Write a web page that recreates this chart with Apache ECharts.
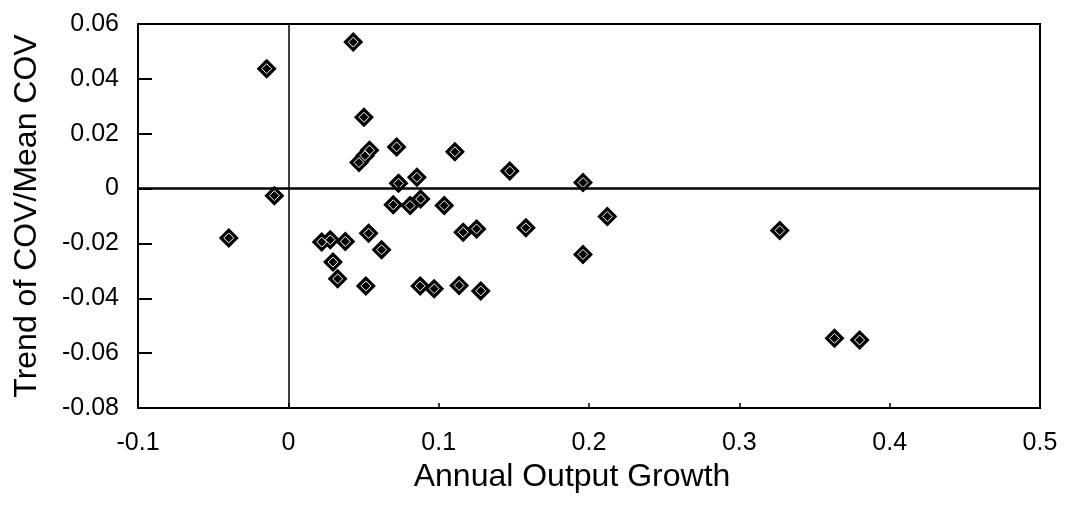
<!DOCTYPE html>
<html>
<head>
<meta charset="utf-8">
<script src="https://cdn.jsdelivr.net/npm/echarts@6/dist/echarts.min.js"></script>
<style>
  html, body { margin: 0; padding: 0; background: #fff; }
  #chart { width: 1072px; height: 509px; }
</style>
</head>
<body>
<div id="chart"></div>
<script>
// annual output growth (x) vs trend of COV / mean COV (y)
const growth = [
  -0.0396, -0.0144, -0.0093, 0.0222, 0.0279, 0.0297, 0.0328, 0.0379, 0.0432, 0.047,
  0.051, 0.054, 0.0503, 0.0534, 0.0516, 0.062, 0.0698, 0.072, 0.0733, 0.081,
  0.0855, 0.088, 0.0877, 0.097, 0.1037, 0.1108, 0.1136, 0.1163, 0.1252, 0.128,
  0.1473, 0.158, 0.196, 0.196, 0.2122, 0.3269, 0.3633, 0.38
];
const covTrend = [
  -0.018, 0.0437, -0.0026, -0.0195, -0.0187, -0.0268, -0.0329, -0.0193, 0.0534, 0.0095,
  0.012, 0.014, 0.026, -0.0163, -0.0355, -0.0223, -0.0059, 0.0152, 0.0019, -0.0062,
  0.0041, -0.0038, -0.0355, -0.0365, -0.0062, 0.0134, -0.0353, -0.0159, -0.0147, -0.0373,
  0.0064, -0.0143, 0.0022, -0.024, -0.0102, -0.0153, -0.0546, -0.0552
];
const xTicks = [-0.1, 0, 0.1, 0.2, 0.3, 0.4, 0.5];
const yTicks = [-0.08, -0.06, -0.04, -0.02, 0, 0.02, 0.04, 0.06];

const points = growth.map((g, i) => [g, covTrend[i]]);
const font = "'Liberation Sans', Arial, sans-serif";

const chart = echarts.init(document.getElementById("chart"));
chart.setOption({
  animation: false,
  backgroundColor: "#fff",
  grid: {
    left: 138, right: 32, top: 24, bottom: 101,
    show: true, borderColor: "#000", borderWidth: 2
  },
  xAxis: {
    type: "value",
    min: xTicks[0], max: xTicks[xTicks.length - 1], interval: 0.1,
    name: "Annual Output Growth",
    nameLocation: "middle", nameGap: 50,
    nameTextStyle: { fontFamily: font, fontSize: 32, color: "#000", padding: [0, 34, 0, 0] },
    axisLine: { onZero: false, lineStyle: { color: "#000", width: 2 } },
    axisTick: { inside: true, length: 5, lineStyle: { color: "#000", width: 1.5 } },
    axisLabel: {
      fontFamily: font, fontSize: 25, color: "#000", margin: 23,
      formatter: v => String(Math.round(v * 10) / 10)
    },
    splitLine: { show: false }
  },
  yAxis: {
    type: "value",
    min: yTicks[0], max: yTicks[yTicks.length - 1], interval: 0.02,
    name: "Trend of COV/Mean COV",
    nameLocation: "middle", nameGap: 95,
    nameTextStyle: { fontFamily: font, fontSize: 32, color: "#000" },
    axisLine: { onZero: false, lineStyle: { color: "#000", width: 2 } },
    axisTick: { inside: true, length: 14, lineStyle: { color: "#000", width: 2 } },
    axisLabel: {
      fontFamily: font, fontSize: 25, color: "#000", margin: 19,
      formatter: v => String(Math.round(v * 100) / 100)
    },
    splitLine: { show: false }
  },
  series: [
    {
      type: "scatter",
      data: points,
      symbol: "diamond",
      symbolSize: 20,
      itemStyle: { color: "#000", opacity: 1 },
      markLine: {
        silent: true,
        symbol: "none",
        label: { show: false },
        lineStyle: { color: "#000", type: "solid", width: 2, opacity: 1 },
        data: [
          { xAxis: 0, lineStyle: { width: 1.5 } },
          { yAxis: 0, lineStyle: { width: 2.5 } }
        ]
      }
    },
    {
      type: "scatter",
      data: points,
      symbol: "diamond",
      symbolSize: 10,
      silent: true,
      itemStyle: { color: "transparent", borderColor: "#fff", borderWidth: 1, opacity: 1 }
    }
  ]
});
</script>
</body>
</html>
